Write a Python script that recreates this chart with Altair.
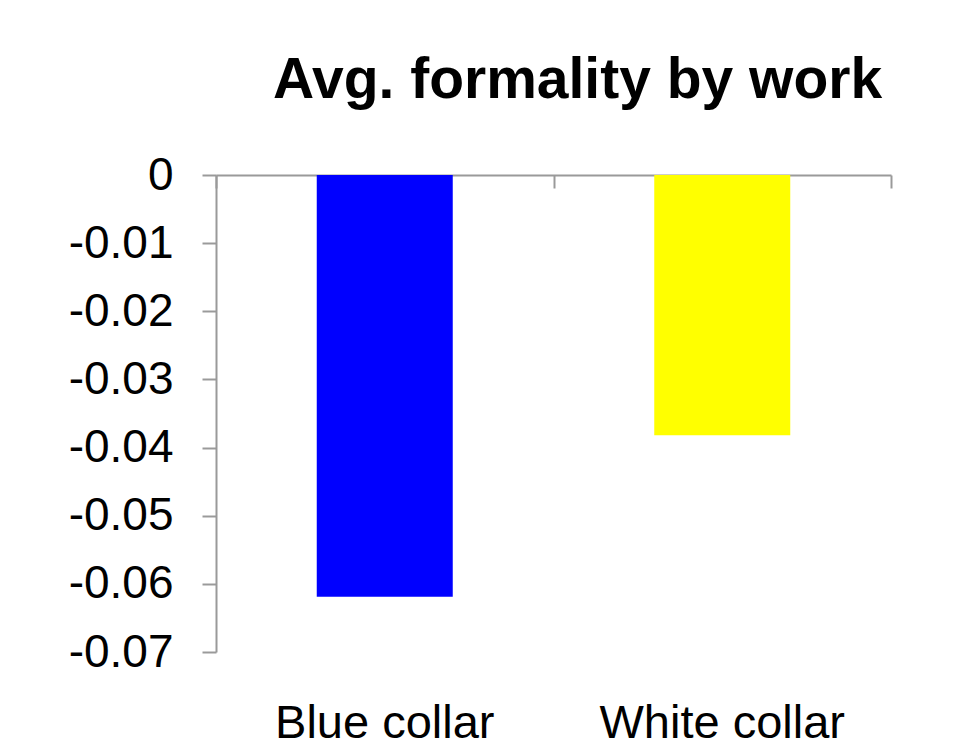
import altair as alt
import pandas as pd

categories = ["Blue collar", "White collar"]
values = [-0.0619, -0.0382]
colors = ["#0000FF", "#FFFF00"]
y_ticks = [0, -0.01, -0.02, -0.03, -0.04, -0.05, -0.06, -0.07]
title_text = "Avg. formality by work"

df = pd.DataFrame({"category": categories, "value": values, "color": colors})

FONT = "Liberation Sans"
AXIS_GRAY = "#9a9a9a"
W, H = 675, 477

x_scale = alt.Scale(domain=categories, paddingInner=0, paddingOuter=0)
y_scale = alt.Scale(domain=[-0.07, 0], nice=False, zero=False)

y_axis = alt.Axis(
    title=None, values=y_ticks, grid=False,
    labelExpr="datum.value == 0 ? '0' : replace(format(datum.value, '.2f'), '\u2212', '-')",
    labelFont=FONT, labelFontSize=46, labelColor="black", labelPadding=29,
    domainColor=AXIS_GRAY, domainWidth=2, tickColor=AXIS_GRAY, tickWidth=2, tickSize=14,
)

bars = alt.Chart(df).mark_bar(width=136).encode(
    x=alt.X("category:N", scale=x_scale, sort=categories,
            axis=alt.Axis(title=None, orient="bottom", offset=-H, labels=False,
                          domainColor=AXIS_GRAY, domainWidth=2, tickColor=AXIS_GRAY,
                          tickWidth=2, tickSize=13, tickBand="extent", grid=False)),
    y=alt.Y("value:Q", scale=y_scale, axis=y_axis),
    color=alt.Color("color:N", scale=None),
)

labels = alt.Chart(df).mark_bar(width=136, opacity=0).encode(
    x=alt.X("category:N", scale=x_scale, sort=categories,
            axis=alt.Axis(title=None, orient="bottom", domain=False, ticks=False, tickSize=0,
                          labelAngle=0, labelFont=FONT, labelFontSize=47, labelColor="black",
                          labelBaseline="alphabetic", labelPadding=85, labelLimit=0,
                          grid=False)),
    y=alt.Y("value:Q", scale=y_scale, axis=y_axis),
)

chart = alt.layer(bars, labels).resolve_axis(x="independent").properties(
    width=W, height=H,
    title=alt.Title(title_text, font=FONT, fontSize=57, fontWeight="bold", color="black",
                    anchor="middle", baseline="alphabetic", offset=-3, dx=24),
    autosize=alt.AutoSizeParams(type="none"),
    padding={"left": 208, "top": 167, "right": 60, "bottom": 110},
).configure_view(stroke=None)

chart.save("out.html", embed_options={"renderer": "svg", "actions": False})
